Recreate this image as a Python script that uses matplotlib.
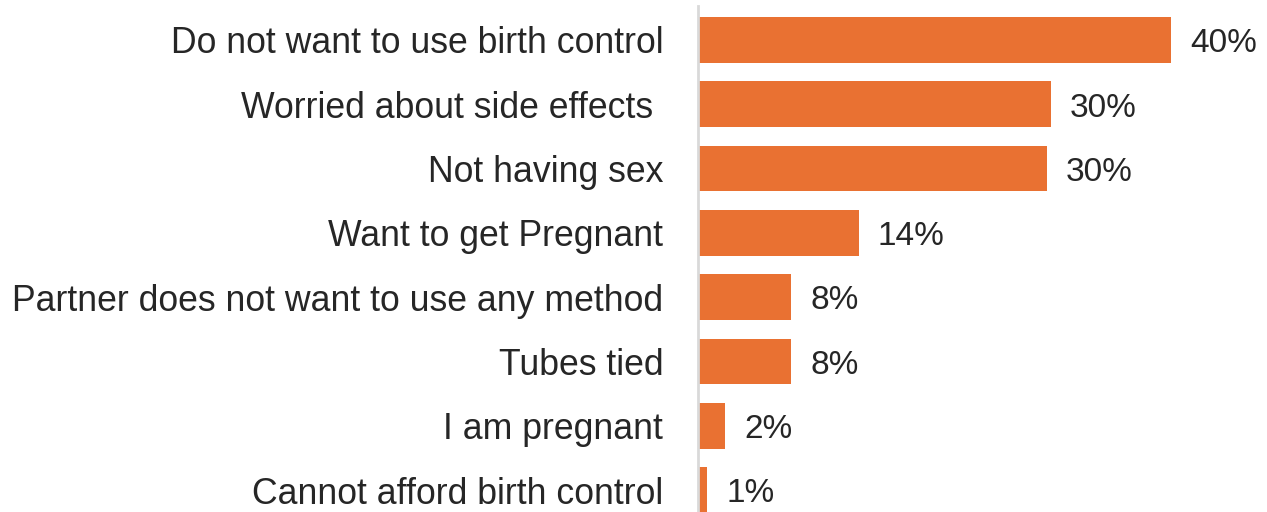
import matplotlib
matplotlib.use('Agg')
import matplotlib.pyplot as plt

categories = ['Do not want to use birth control', 'Worried about side effects ',
              'Not having sex', 'Want to get Pregnant',
              'Partner does not want to use any method', 'Tubes tied',
              'I am pregnant', 'Cannot afford birth control']
values = [40.0, 29.8, 29.5, 13.6, 7.9, 7.9, 2.3, 0.8]
value_labels = ['40%', '30%', '30%', '14%', '8%', '8%', '2%', '1%']

bar_color = '#E97132'
text_color = '#262626'

plt.rcParams['font.family'] = ['Liberation Sans', 'DejaVu Sans']

fig = plt.figure(figsize=(12.67, 5.12), dpi=100)
ax = fig.add_axes([698 / 1267, 0, 1 - 698 / 1267, 1 - 6 / 512])

y = list(range(len(categories)))
ax.barh(y, values, height=0.71, color=bar_color)

for yi, v, lab in zip(y, values, value_labels):
    ax.text(v + 1.6, yi + 0.06, lab, va='center', ha='left', fontsize=24, color=text_color)

ax.set_xlim(0, 48.1)
ax.set_ylim(7 + 22 / 64.5, -34 / 64.5)
ax.set_yticks(y)
ax.set_yticklabels(categories, fontsize=25.7, color=text_color)
ax.tick_params(axis='y', length=0, pad=25)
ax.set_xticks([])

for s in ['top', 'right', 'bottom']:
    ax.spines[s].set_visible(False)
ax.spines['left'].set_color('#d9d9d9')
ax.spines['left'].set_linewidth(2)

fig.savefig('out.png', dpi=100)
